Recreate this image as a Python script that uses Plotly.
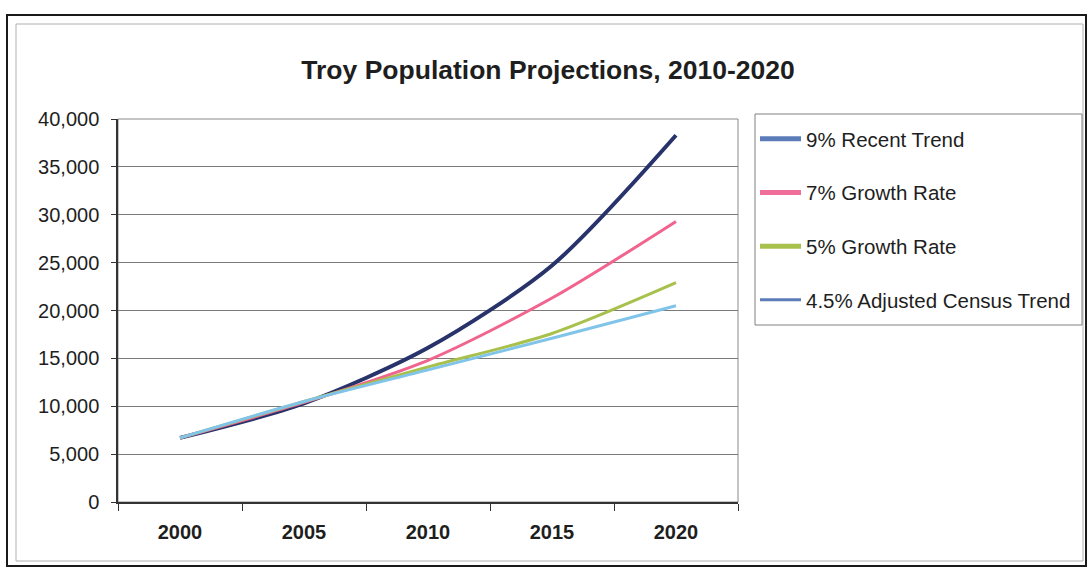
import plotly.graph_objects as go

years = ["2000", "2005", "2010", "2015", "2020"]
recent_trend_9 = [6700, 10300, 16100, 24700, 38300]
growth_rate_7 = [6700, 10400, 14800, 21300, 29300]
growth_rate_5 = [6700, 10500, 14100, 17600, 22900]
census_trend_45 = [6700, 10500, 13800, 17100, 20500]

series_names = ["9% Recent Trend", "7% Growth Rate", "5% Growth Rate", "4.5% Adjusted Census Trend"]
series_values = [recent_trend_9, growth_rate_7, growth_rate_5, census_trend_45]
line_colors = ["#27336a", "#f0648e", "#a8c04c", "#80c4ea"]
line_widths = [4, 3, 3, 3]
legend_colors = ["#5b7cb8", "#f06e9a", "#a8c04c", "#5b7cb8"]
legend_widths = [5, 5, 5, 3]

y_ticks = [0, 5000, 10000, 15000, 20000, 25000, 30000, 35000, 40000]

fig = go.Figure()
for i in range(4):
    fig.add_trace(go.Scatter(
        x=years, y=series_values[i], mode="lines", name=series_names[i],
        line=dict(color=line_colors[i], width=line_widths[i], shape="spline", smoothing=0.8),
        showlegend=False, hoverinfo="x+y+name"))
for i in range(4):
    fig.add_trace(go.Scatter(
        x=[None], y=[None], mode="lines", name=series_names[i],
        line=dict(color=legend_colors[i], width=legend_widths[i]),
        legendgroup=f"g{i}", showlegend=True))

W, H = 1089, 573
L, R, T, B = 118, 738, 119, 502
pw, ph = R - L, B - T

def px(x):
    return (x - L) / pw

def py(y):
    return (B - y) / ph

shapes = [
    # outer scan frame
    dict(type="rect", xref="paper", yref="paper", x0=px(7), x1=px(1086), y0=py(566), y1=py(15),
         line=dict(color="#1a1a1a", width=2), fillcolor="rgba(0,0,0,0)", layer="below"),
    dict(type="rect", xref="paper", yref="paper", x0=px(16), x1=px(1083), y0=py(561), y1=py(24),
         line=dict(color="#b0b0b0", width=1), fillcolor="rgba(0,0,0,0)", layer="below"),
    # plot area border
    dict(type="rect", xref="paper", yref="paper", x0=0, x1=1, y0=0, y1=1,
         line=dict(color="#8a8a8a", width=1), fillcolor="rgba(0,0,0,0)", layer="below"),
    # legend box
    dict(type="rect", xref="paper", yref="paper", x0=px(755), x1=px(1082), y0=py(325), y1=py(114),
         line=dict(color="#808080", width=1), fillcolor="white", layer="below"),
]

fig.update_layout(
    width=W, height=H,
    margin=dict(l=L, r=W - R, t=T, b=H - B),
    paper_bgcolor="white", plot_bgcolor="white",
    font=dict(family="Liberation Sans, Arial, sans-serif", color="#1e1e1e"),
    title=dict(text="<b>Troy Population Projections, 2010-2020</b>",
               font=dict(size=26.5, color="#1e1e1e"),
               x=548 / W, xref="container", xanchor="center",
               y=1 - 70 / H, yref="container", yanchor="middle"),
    xaxis=dict(type="category", range=[-0.5, 4.5], tickson="boundaries",
               ticks="outside", ticklen=7, tickwidth=1, tickcolor="#333",
               showline=True, linecolor="#333", linewidth=1.5,
               showgrid=False, zeroline=False,
               tickfont=dict(size=20, color="#1e1e1e", family="Liberation Sans, Arial, sans-serif",
                             weight="bold"),
               ticklabelstandoff=11),
    yaxis=dict(range=[0, 40000], tickvals=y_ticks, tickformat=",d",
               ticks="outside", ticklen=5, tickcolor="#333",
               showline=True, linecolor="#333", linewidth=1.5,
               showgrid=True, gridcolor="#7a7a7a", gridwidth=1, zeroline=False,
               tickfont=dict(size=20, color="#1e1e1e"), ticklabelstandoff=8),
    legend=dict(x=px(755), y=py(119), xanchor="left", yanchor="top",
                borderwidth=0, bgcolor="rgba(0,0,0,0)",
                font=dict(size=20.5, color="#1e1e1e"), tracegroupgap=24,
                itemwidth=41, itemclick=False),
    shapes=shapes,
)

fig.write_html("out.html")
